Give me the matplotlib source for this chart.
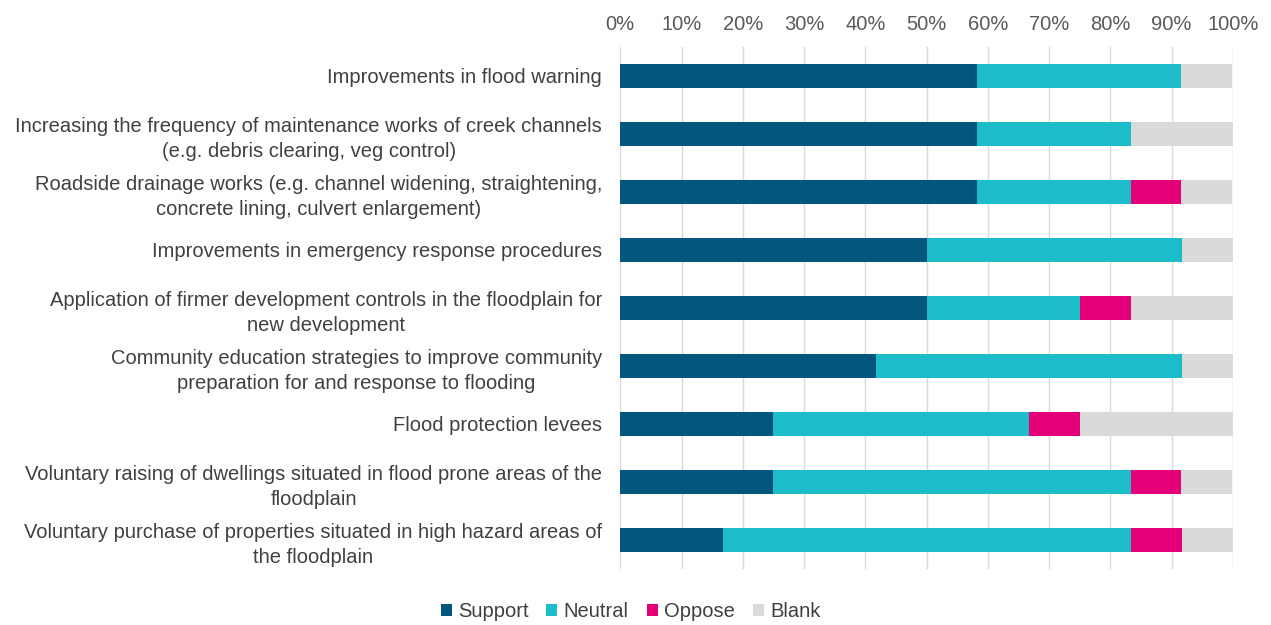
import numpy as np
import matplotlib.pyplot as plt
from matplotlib.ticker import PercentFormatter

plt.rcParams['font.family'] = ['Liberation Sans', 'DejaVu Sans']

# Responses (% of respondents)
categories = [
    "Improvements in flood warning",
    "Increasing the frequency of maintenance works of creek channels\n(e.g. debris clearing, veg control)",
    "Roadside drainage works (e.g. channel widening, straightening,\nconcrete lining, culvert enlargement)",
    "Improvements in emergency response procedures",
    "Application of firmer development controls in the floodplain for\nnew development",
    "Community education strategies to improve community\npreparation for and response to flooding",
    "Flood protection levees",
    "Voluntary raising of dwellings situated in flood prone areas of the\nfloodplain",
    "Voluntary purchase of properties situated in high hazard areas of\nthe floodplain",
]
support = [58.3, 58.3, 58.3, 50.0, 50.0, 41.7, 25.0, 25.0, 16.7]
neutral = [33.3, 25.0, 25.0, 41.7, 25.0, 50.0, 41.7, 58.3, 66.7]
oppose = [0.0, 0.0, 8.3, 0.0, 8.3, 0.0, 8.3, 8.3, 8.3]
blank = [8.3, 16.7, 8.3, 8.3, 16.7, 8.3, 25.0, 8.3, 8.3]

series = [("Support", support, "#03577f"),
          ("Neutral", neutral, "#1cbccb"),
          ("Oppose", oppose, "#e5007a"),
          ("Blank", blank, "#dadbd9")]

fig = plt.figure(figsize=(12.71, 6.25), dpi=100)
ax = fig.add_axes([0.488, 0.0896, 0.482, 0.8354])

y = np.arange(len(categories))
left = np.zeros(len(categories))
for name, vals, col in series:
    vals = np.array(vals)
    ax.barh(y, vals, left=left, height=0.41, color=col, label=name, zorder=3)
    left += vals

ax.set_xlim(0, 100)
ax.set_ylim(len(categories) - 0.5, -0.5)
ax.set_yticks(y)
ax.set_yticklabels(categories, fontsize=14.5, color="#404040", linespacing=1.4,
                   multialignment='center')
ax.xaxis.tick_top()
ax.set_xticks(np.arange(0, 101, 10))
ax.xaxis.set_major_formatter(PercentFormatter(decimals=0))
ax.tick_params(axis='x', labelsize=14.5, labelcolor="#595959", length=0, pad=9)
ax.tick_params(axis='y', length=0, pad=13)
ax.grid(axis='x', color="#d9d9d9", linewidth=1, zorder=0)
for s in ax.spines.values():
    s.set_visible(False)

handles, labels = ax.get_legend_handles_labels()
fig.legend(handles, labels, loc='center', bbox_to_anchor=(0.496, 0.021), ncol=4,
           frameon=False, fontsize=14.5, handlelength=0.55, handleheight=0.55,
           handletextpad=0.3, columnspacing=0.9, labelcolor="#404040")

fig.savefig("out.png", dpi=100)
